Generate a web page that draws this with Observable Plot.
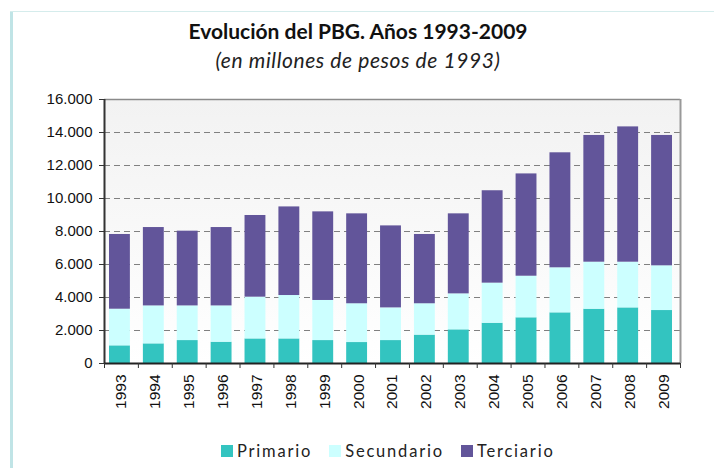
<!DOCTYPE html>
<html>
<head>
<meta charset="utf-8">
<script src="https://cdn.jsdelivr.net/npm/d3@7"></script>
<script src="https://cdn.jsdelivr.net/npm/@observablehq/plot@0.6"></script>
<style>
  html, body { margin: 0; padding: 0; background: #fff; }
  #wrap { position: relative; width: 714px; height: 468px; overflow: hidden; }
  #lbar { position: absolute; left: 10px; top: 11px; width: 3px; height: 460px; background: #c0e4e6; }
  #tline { position: absolute; left: 10px; top: 11px; width: 704px; height: 1px; background: #d5ecec; }
  #title { position: absolute; left: 0; width: 716px; top: 18px; text-align: center;
           font: bold 21px Lato, sans-serif; color: #111; }
  #subtitle { position: absolute; left: 0; width: 716px; top: 47px; text-align: center;
           font: italic 21px Lato, sans-serif; color: #222; letter-spacing: 0.6px; }
  #chart { position: absolute; left: 0; top: 80px; }
  #legend { position: absolute; left: 221px; top: 441px; display: flex; align-items: center;
            font: 16.5px Lato, sans-serif; letter-spacing: 1.8px; color: #222; }
  .item { display: flex; align-items: center; margin-right: 17px; }
  .sw { width: 12px; height: 12px; margin-right: 4px; }
</style>
</head>
<body>
<div id="wrap">
  <div id="lbar"></div>
  <div id="tline"></div>
  <div id="title">Evolución del PBG. Años 1993-2009</div>
  <div id="subtitle">(en millones de pesos de 1993)</div>
  <div id="chart"></div>
  <div id="legend"></div>
</div>
<script>
const years = [1993,1994,1995,1996,1997,1998,1999,2000,2001,2002,2003,2004,2005,2006,2007,2008,2009];
const primario   = [1070,1190,1390,1290,1490,1490,1390,1270,1390,1720,2040,2440,2770,3070,3290,3370,3210];
const secundario = [2220,2300,2100,2200,2530,2630,2430,2350,1980,1900,2180,2430,2520,2730,2850,2770,2710];
const terciario  = [4530,4750,4530,4750,4950,5370,5370,5450,4970,4200,4850,5600,6200,6970,7680,8200,7900];
const sectors = ["Primario", "Secundario", "Terciario"];
const colors = ["#33c4c0", "#ccffff", "#62559a"];
const yTicks = [0,2000,4000,6000,8000,10000,12000,14000,16000];

const series = [primario, secundario, terciario];
const data = [];
years.forEach((yr, i) => sectors.forEach((s, k) => data.push({year: yr, sector: s, value: series[k][i]})));

const fmt = d3.formatLocale({decimal: ",", thousands: ".", grouping: [3]}).format(",");
const boundaries = years.concat([years[years.length - 1] + 1]);
const x0 = years[0], x1 = years[years.length - 1] + 1;

const plot = Plot.plot({
  width: 714,
  height: 340,
  marginTop: 19,
  marginBottom: 57,
  marginLeft: 104,
  marginRight: 34,
  x: {type: "linear", domain: [x0, x1], axis: null, label: null},
  y: {domain: [0, 16000], axis: null, label: null},
  color: {domain: sectors, range: colors},
  style: {fontFamily: "'Liberation Sans', Arial, sans-serif", fontSize: "15px", color: "#111", background: "transparent"},
  marks: [
    Plot.frame({fill: "url(#bgGrad)", stroke: null}),
    Plot.ruleY(yTicks.filter(t => t > 0 && t < 16000), {stroke: "#808080", strokeWidth: 1.2, strokeDasharray: "6,4"}),
    Plot.rectY(data, {x: "year", interval: 1, y: "value", fill: "sector", order: sectors, insetLeft: 5, insetRight: 8}),
    Plot.ruleY([16000], {stroke: "#8a8a8a", strokeWidth: 1.5}),
    Plot.ruleX([x1], {stroke: "#999", strokeWidth: 2}),
    Plot.ruleX([x0], {stroke: "#333", strokeWidth: 2}),
    Plot.ruleY([0], {stroke: "#222", strokeWidth: 2}),
    Plot.axisY(yTicks, {tickSize: 5, tickPadding: 7, tickFormat: fmt, stroke: "#333", fontSize: 15, label: null}),
    Plot.axisX(boundaries, {tickSize: 5, tickFormat: () => "", stroke: "#333", label: null}),
    Plot.axisX(years.map(y => y + 0.5), {tickSize: 0, tickPadding: 11, tickRotate: -90, tickFormat: d => String(d - 0.5), fontSize: 15.5, label: null})
  ]
});

const svg = d3.select(plot);
const defs = svg.insert("defs", ":first-child");
const g = defs.append("linearGradient").attr("id", "bgGrad").attr("x1", 0).attr("y1", 0).attr("x2", 0).attr("y2", 1);
g.append("stop").attr("offset", "0%").attr("stop-color", "#f2f2f2");
g.append("stop").attr("offset", "100%").attr("stop-color", "#ffffff");

document.getElementById("chart").appendChild(plot);

const legend = d3.select("#legend");
sectors.forEach((s, i) => {
  const it = legend.append("div").attr("class", "item");
  it.append("div").attr("class", "sw").style("background", colors[i]);
  it.append("span").text(s);
});
</script>
</body>
</html>
